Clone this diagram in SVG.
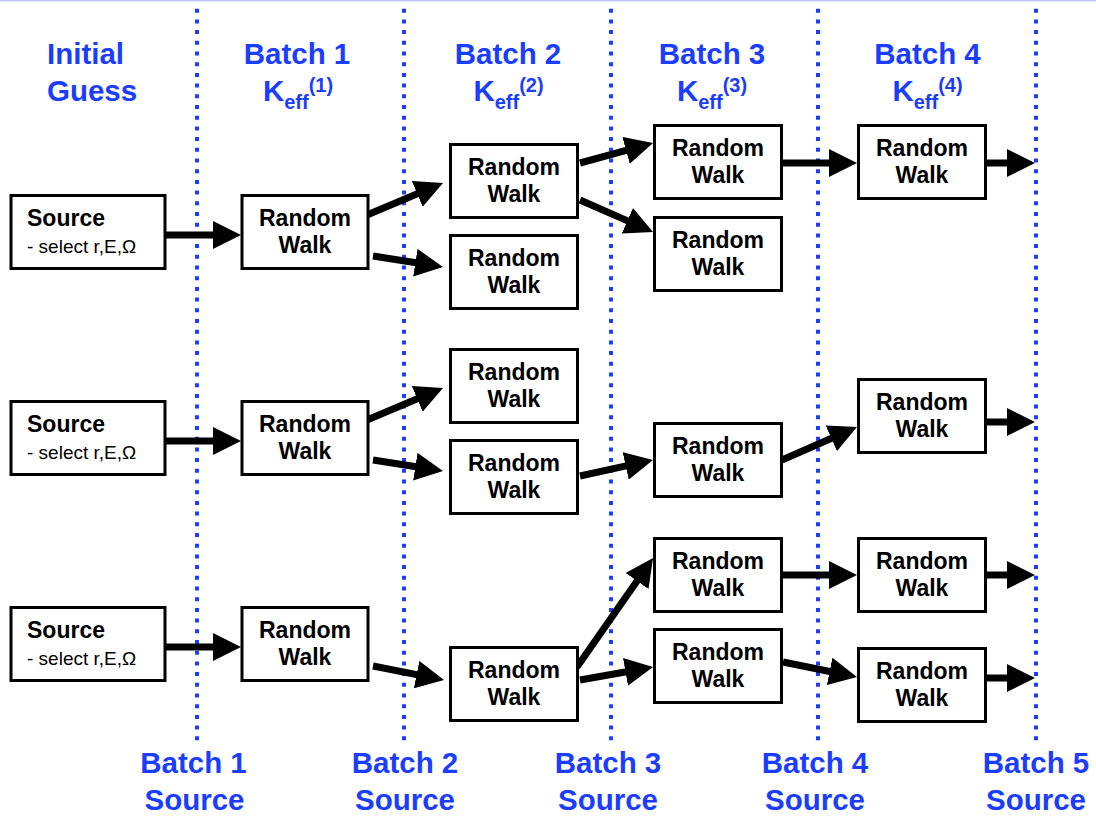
<svg xmlns="http://www.w3.org/2000/svg" width="1096" height="816" viewBox="0 0 1096 816">
<style>
.bg{fill:#ffffff}
.box{fill:#ffffff;stroke:#000000;stroke-width:3}
.t{font-family:"Liberation Sans",Arial,Helvetica,sans-serif;font-weight:bold;font-size:23px;fill:#000000;text-anchor:middle}
.src{font-family:"Liberation Sans",Arial,Helvetica,sans-serif;font-weight:bold;font-size:23px;fill:#000000}
.sel{font-family:"Liberation Sans",Arial,Helvetica,sans-serif;font-size:19px;fill:#000000}
.h{font-family:"Liberation Sans",Arial,Helvetica,sans-serif;font-weight:bold;font-size:29.5px;fill:#1a3dff}
.hc{text-anchor:middle}
.sub{font-size:20px}
.div{stroke:#1a3dff;stroke-width:4;stroke-dasharray:4 6.7;fill:none}
.arr{stroke:#000000;stroke-width:7;fill:none;marker-end:url(#ah)}
</style>
<defs>
<marker id="ah" markerUnits="userSpaceOnUse" markerWidth="28" markerHeight="28" viewBox="0 0 28 28" refX="4" refY="14" orient="auto">
<path d="M0,0 L28,14 L0,28 Z" fill="#000000"/>
</marker>
</defs>
<rect class="bg" x="0" y="0" width="1096" height="816"/>
<line x1="0" y1="0.75" x2="1096" y2="0.75" stroke="#bcc6ff" stroke-width="1.5"/>

<g id="dividers">
<line class="div" x1="197" y1="8.7" x2="197" y2="746"/>
<line class="div" x1="404" y1="8.7" x2="404" y2="746"/>
<line class="div" x1="611" y1="8.7" x2="611" y2="746"/>
<line class="div" x1="818" y1="8.7" x2="818" y2="746"/>
<line class="div" x1="1036" y1="8.7" x2="1036" y2="746"/>
</g>

<g id="headers">
<text class="h" x="47" y="64">Initial</text>
<text class="h" x="47" y="101">Guess</text>
<text class="h hc" x="297" y="64">Batch 1</text>
<text class="h hc" x="298" y="101">K<tspan class="sub" dy="8">eff</tspan><tspan class="sub" dy="-17">(1)</tspan></text>
<text class="h hc" x="508" y="64">Batch 2</text>
<text class="h hc" x="508.5" y="101">K<tspan class="sub" dy="8">eff</tspan><tspan class="sub" dy="-17">(2)</tspan></text>
<text class="h hc" x="712" y="64">Batch 3</text>
<text class="h hc" x="712" y="101">K<tspan class="sub" dy="8">eff</tspan><tspan class="sub" dy="-17">(3)</tspan></text>
<text class="h hc" x="927.5" y="64">Batch 4</text>
<text class="h hc" x="927.5" y="101">K<tspan class="sub" dy="8">eff</tspan><tspan class="sub" dy="-17">(4)</tspan></text>
</g>

<g id="footers">
<text class="h hc" x="193.5" y="773">Batch 1</text>
<text class="h hc" x="194.5" y="810">Source</text>
<text class="h hc" x="405" y="773">Batch 2</text>
<text class="h hc" x="405" y="810">Source</text>
<text class="h hc" x="608" y="773">Batch 3</text>
<text class="h hc" x="608" y="810">Source</text>
<text class="h hc" x="815" y="773">Batch 4</text>
<text class="h hc" x="815" y="810">Source</text>
<text class="h hc" x="1036" y="773">Batch 5</text>
<text class="h hc" x="1036" y="810">Source</text>
</g>

<g id="connectors">
<line class="arr" x1="166" y1="235" x2="217" y2="235"/>
<line class="arr" x1="166" y1="441" x2="217" y2="441"/>
<line class="arr" x1="166" y1="647" x2="217" y2="647"/>
<line class="arr" x1="367" y1="215" x2="420.9" y2="192.3"/>
<line class="arr" x1="373" y1="256" x2="419.3" y2="263.3"/>
<line class="arr" x1="367" y1="420" x2="420.9" y2="397.3"/>
<line class="arr" x1="373" y1="460" x2="419.3" y2="467.3"/>
<line class="arr" x1="373" y1="666" x2="420.5" y2="675.4"/>
<line class="arr" x1="580" y1="163" x2="629.9" y2="149.3"/>
<line class="arr" x1="580" y1="200" x2="631" y2="222.4"/>
<line class="arr" x1="580" y1="476" x2="629.6" y2="465.1"/>
<line class="arr" x1="577" y1="667" x2="639.3" y2="577.7"/>
<line class="arr" x1="580" y1="680" x2="629.4" y2="671.2"/>
<line class="arr" x1="782" y1="163" x2="833" y2="163"/>
<line class="arr" x1="782" y1="460" x2="835" y2="436.7"/>
<line class="arr" x1="782" y1="575" x2="833" y2="575"/>
<line class="arr" x1="783" y1="662" x2="833.5" y2="672.2"/>
<line class="arr" x1="986" y1="163" x2="1011" y2="163"/>
<line class="arr" x1="986" y1="422" x2="1011" y2="422"/>
<line class="arr" x1="986" y1="575" x2="1011" y2="575"/>
<line class="arr" x1="986" y1="678" x2="1011" y2="678"/>
</g>

<g id="source1"><rect class="box" x="11" y="195.5" width="154" height="73"/><text class="src" x="27" y="225.5">Source</text><text class="sel" x="27" y="253">- select r,E,Ω</text></g>
<g id="source2"><rect class="box" x="11" y="401.5" width="154" height="73"/><text class="src" x="27" y="431.5">Source</text><text class="sel" x="27" y="459">- select r,E,Ω</text></g>
<g id="source3"><rect class="box" x="11" y="607.5" width="154" height="73"/><text class="src" x="27" y="637.5">Source</text><text class="sel" x="27" y="665">- select r,E,Ω</text></g>

<g id="b1r1"><rect class="box" x="242" y="195.5" width="126" height="73"/><text class="t" x="305" y="225.5">Random</text><text class="t" x="305" y="253">Walk</text></g>
<g id="b1r2"><rect class="box" x="242" y="401.5" width="126" height="73"/><text class="t" x="305" y="431.5">Random</text><text class="t" x="305" y="459">Walk</text></g>
<g id="b1r3"><rect class="box" x="242" y="607.5" width="126" height="73"/><text class="t" x="305" y="637.5">Random</text><text class="t" x="305" y="665">Walk</text></g>

<g id="b2r1"><rect class="box" x="450.5" y="144.5" width="127" height="73"/><text class="t" x="514" y="174.5">Random</text><text class="t" x="514" y="202">Walk</text></g>
<g id="b2r2"><rect class="box" x="450.5" y="235.5" width="127" height="73"/><text class="t" x="514" y="265.5">Random</text><text class="t" x="514" y="293">Walk</text></g>
<g id="b2r3"><rect class="box" x="450.5" y="349.5" width="127" height="73"/><text class="t" x="514" y="379.5">Random</text><text class="t" x="514" y="407">Walk</text></g>
<g id="b2r4"><rect class="box" x="450.5" y="440.5" width="127" height="73"/><text class="t" x="514" y="470.5">Random</text><text class="t" x="514" y="498">Walk</text></g>
<g id="b2r5"><rect class="box" x="450.5" y="647.5" width="127" height="73"/><text class="t" x="514" y="677.5">Random</text><text class="t" x="514" y="705">Walk</text></g>

<g id="b3r1"><rect class="box" x="654.5" y="125.5" width="127" height="73"/><text class="t" x="718" y="155.5">Random</text><text class="t" x="718" y="183">Walk</text></g>
<g id="b3r2"><rect class="box" x="654.5" y="217.5" width="127" height="73"/><text class="t" x="718" y="247.5">Random</text><text class="t" x="718" y="275">Walk</text></g>
<g id="b3r3"><rect class="box" x="654.5" y="423.5" width="127" height="73"/><text class="t" x="718" y="453.5">Random</text><text class="t" x="718" y="481">Walk</text></g>
<g id="b3r4"><rect class="box" x="654.5" y="538.5" width="127" height="73"/><text class="t" x="718" y="568.5">Random</text><text class="t" x="718" y="596">Walk</text></g>
<g id="b3r5"><rect class="box" x="654.5" y="629.5" width="127" height="73"/><text class="t" x="718" y="659.5">Random</text><text class="t" x="718" y="687">Walk</text></g>

<g id="b4r1"><rect class="box" x="858.5" y="125.5" width="127" height="73"/><text class="t" x="922" y="155.5">Random</text><text class="t" x="922" y="183">Walk</text></g>
<g id="b4r2"><rect class="box" x="858.5" y="379.5" width="127" height="73"/><text class="t" x="922" y="409.5">Random</text><text class="t" x="922" y="437">Walk</text></g>
<g id="b4r3"><rect class="box" x="858.5" y="538.5" width="127" height="73"/><text class="t" x="922" y="568.5">Random</text><text class="t" x="922" y="596">Walk</text></g>
<g id="b4r4"><rect class="box" x="858.5" y="648.5" width="127" height="73"/><text class="t" x="922" y="678.5">Random</text><text class="t" x="922" y="706">Walk</text></g>
</svg>
